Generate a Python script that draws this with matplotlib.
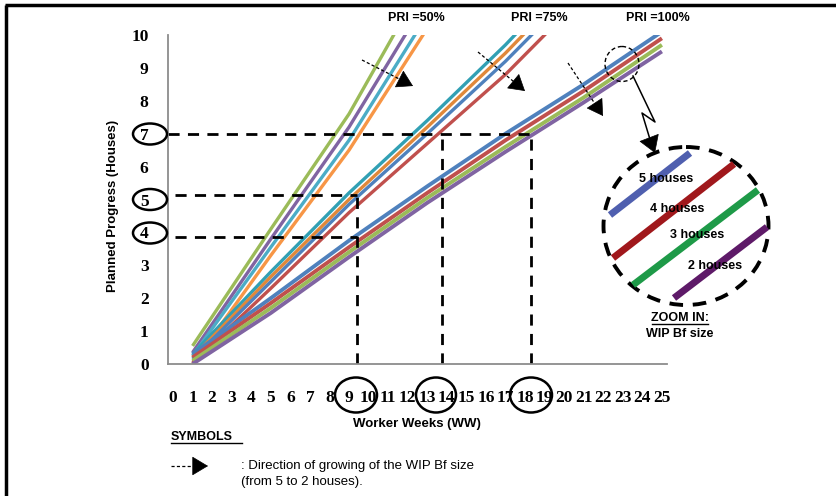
import matplotlib.pyplot as plt
from matplotlib.patches import Ellipse, FancyArrowPatch

plt.rcParams['font.family'] = 'Liberation Sans'

# worker weeks where the planned progress was read
ww50 = [1, 5, 9, 13]
ww75 = [1, 5, 9, 13, 17, 21]
ww100 = [1, 5, 9, 13, 17, 21, 25]

# PRI = 50%  (WIP Bf 5 -> 2 houses)
pri50_colors = ['#9BBB59', '#8064A2', '#4BACC6', '#F79646']
pri50 = [[0.55, 4.1, 7.6, 11.8],
         [0.35, 3.8, 7.2, 11.1],
         [0.25, 3.55, 6.8, 10.6],
         [0.0, 3.3, 6.5, 10.2]]

# PRI = 75%
pri75_colors = ['#31A0B4', '#E0883A', '#4F81BD', '#C0504D']
pri75 = [[0.3, 2.8, 5.2, 7.4, 9.7, 12.2],
         [0.2, 2.65, 5.0, 7.2, 9.45, 11.9],
         [0.15, 2.5, 4.85, 7.0, 9.2, 11.6],
         [0.05, 2.3, 4.6, 6.7, 8.8, 11.2]]

# PRI = 100%
pri100_colors = ['#4F81BD', '#C0504D', '#9BBB59', '#8064A2']
pri100 = [[0.3, 2.0, 3.75, 5.4, 7.0, 8.5, 10.1],
          [0.2, 1.85, 3.55, 5.2, 6.8, 8.3, 9.9],
          [0.1, 1.7, 3.4, 5.05, 6.6, 8.1, 9.7],
          [0.0, 1.55, 3.25, 4.9, 6.45, 7.95, 9.5]]

# reading lines
ref_x = [9.4, 13.75, 18.3]
ref_y = [3.85, 5.15, 7.0]

fig = plt.figure(figsize=(8.36, 4.96), dpi=100)
ax = fig.add_axes([168/836, 1-364/496, 499/836, 329/496])

for vals, c in zip(pri50, pri50_colors):
    ax.plot(ww50, vals, color=c, lw=2.4, solid_capstyle='butt')
for vals, c in zip(pri75, pri75_colors):
    ax.plot(ww75, vals, color=c, lw=2.4, solid_capstyle='butt')
for vals, c in zip(pri100, pri100_colors):
    ax.plot(ww100, vals, color=c, lw=2.8, solid_capstyle='butt')

dash = dict(color='black', lw=2, dashes=(4, 3))
ax.plot([-0.25, ref_x[2]], [ref_y[2], ref_y[2]], clip_on=False, **dash)
ax.plot([0.1, ref_x[0]], [ref_y[1], ref_y[1]], **dash)
ax.plot([0.1, ref_x[0]], [ref_y[0], ref_y[0]], **dash)
ax.plot([ref_x[0], ref_x[0]], [0, ref_y[1]], **dash)
ax.plot([ref_x[1], ref_x[1]], [0, ref_y[2]], **dash)
ax.plot([ref_x[2], ref_x[2]], [0, ref_y[2]], **dash)

ax.set_xlim(-0.256, 25.26)
ax.set_ylim(0, 10)
ax.set_xticks(range(26))
ax.set_yticks(range(11))
tickfont = dict(family='Liberation Serif', weight='bold', size=12.5)
ax.set_xticklabels([str(i) for i in range(26)], **tickfont)
ax.set_yticklabels([str(i) for i in range(11)], **tickfont)
ax.tick_params(axis='x', length=0, pad=19)
ax.tick_params(axis='y', length=0, pad=14)
for s in ['top', 'right']:
    ax.spines[s].set_visible(False)
for s in ['left', 'bottom']:
    ax.spines[s].set_color('#8C8C8C')
    ax.spines[s].set_linewidth(1.3)

# overlay in pixel coordinates for annotations
ov = fig.add_axes([0, 0, 1, 1], zorder=5)
ov.set_xlim(0, 836)
ov.set_ylim(496, 0)
ov.axis('off')
ov.patch.set_alpha(0)

# frame
ov.plot([5, 836], [5, 5], color='black', lw=2.5, solid_capstyle='butt')
ov.plot([6, 6], [5, 496], color='black', lw=2.5, solid_capstyle='butt')

# circled tick labels
for cy in [134, 199.5, 233]:
    ov.add_patch(Ellipse((150, cy), 34, 21, fill=False, ec='black', lw=1.8))
for cx, w in [(356, 42), (436, 40), (531, 42)]:
    ov.add_patch(Ellipse((cx, 395), w, 35, fill=False, ec='black', lw=1.8))

ov.text(113, 206, 'Planned Progress (Houses)', rotation=90, ha='center',
        va='center', fontsize=9.5, fontweight='bold')
ov.text(417, 424, 'Worker Weeks (WW)', ha='center', va='center',
        fontsize=9.5, fontweight='bold')

for tx, lab in [(416, 'PRI =50%'), (539, 'PRI =75%'), (658, 'PRI =100%')]:
    ov.text(tx, 18, lab, ha='center', va='center', fontsize=9, fontweight='bold')


def dir_arrow(x0, y0, x1, y1, head=9):
    dx, dy = x1 - x0, y1 - y0
    n = (dx**2 + dy**2) ** 0.5
    bx, by = x1 - dx / n * head, y1 - dy / n * head
    ov.plot([x0, bx], [y0, by], color='black', lw=0.9, dashes=(2.5, 1.8))
    ov.add_patch(FancyArrowPatch((bx, by), (x1, y1), arrowstyle='-|>,head_length=0.75,head_width=0.45',
                                 mutation_scale=14, color='black', lw=0.5,
                                 shrinkA=0, shrinkB=0))


dir_arrow(362, 60, 413, 86)
dir_arrow(478, 52, 525, 91)
dir_arrow(568, 63, 603, 116)

# small zoom circle + lightning pointer
ov.add_patch(Ellipse((622, 64), 34, 35, fill=False, ec='black', lw=1, ls=(0, (3, 2))))
ov.plot([633, 655, 642, 652], [76, 122, 113, 146], color='black', lw=1.1)
ov.add_patch(FancyArrowPatch((650, 140), (655, 153), arrowstyle='-|>,head_length=0.8,head_width=0.5',
                             mutation_scale=14, color='black', lw=0.5, shrinkA=0, shrinkB=0))

# zoom in circle
ov.add_patch(Ellipse((686, 226), 165, 158, fill=False, ec='black', lw=2.8,
                     ls=(0, (3.5, 2.5))))
inset = [((610, 690), (215, 153), '#4F5FAF'),
         ((613, 734), (258, 164), '#A0181C'),
         ((633, 758), (285, 190), '#1E9A48'),
         ((674, 767), (298, 227), '#5E1A68')]
for xs, ys, c in inset:
    ov.plot(xs, ys, color=c, lw=5, solid_capstyle='butt')
for tx, ty, lab in [(666, 179, '5 houses'), (677, 209, '4 houses'),
                    (697, 235, '3 houses'), (715, 266, '2 houses')]:
    ov.text(tx, ty, lab, ha='center', va='center', fontsize=9, fontweight='bold')
ov.text(680, 318, 'ZOOM IN:', ha='center', va='center', fontsize=9, fontweight='bold')
ov.plot([652, 708], [324, 324], color='black', lw=1)
ov.text(680, 334, 'WIP Bf size', ha='center', va='center', fontsize=9, fontweight='bold')

# symbols legend
ov.text(171, 437, 'SYMBOLS', ha='left', va='center', fontsize=9, fontweight='bold')
ov.plot([171, 242], [443, 443], color='black', lw=1)
dir_arrow(171, 466, 208, 466, head=9)
ov.text(241, 466, ': Direction of growing of the WIP Bf size', ha='left',
        va='center', fontsize=9.5)
ov.text(241, 482, '(from 5 to 2 houses).', ha='left', va='center', fontsize=9.5)

fig.savefig('out.png', dpi=100)
